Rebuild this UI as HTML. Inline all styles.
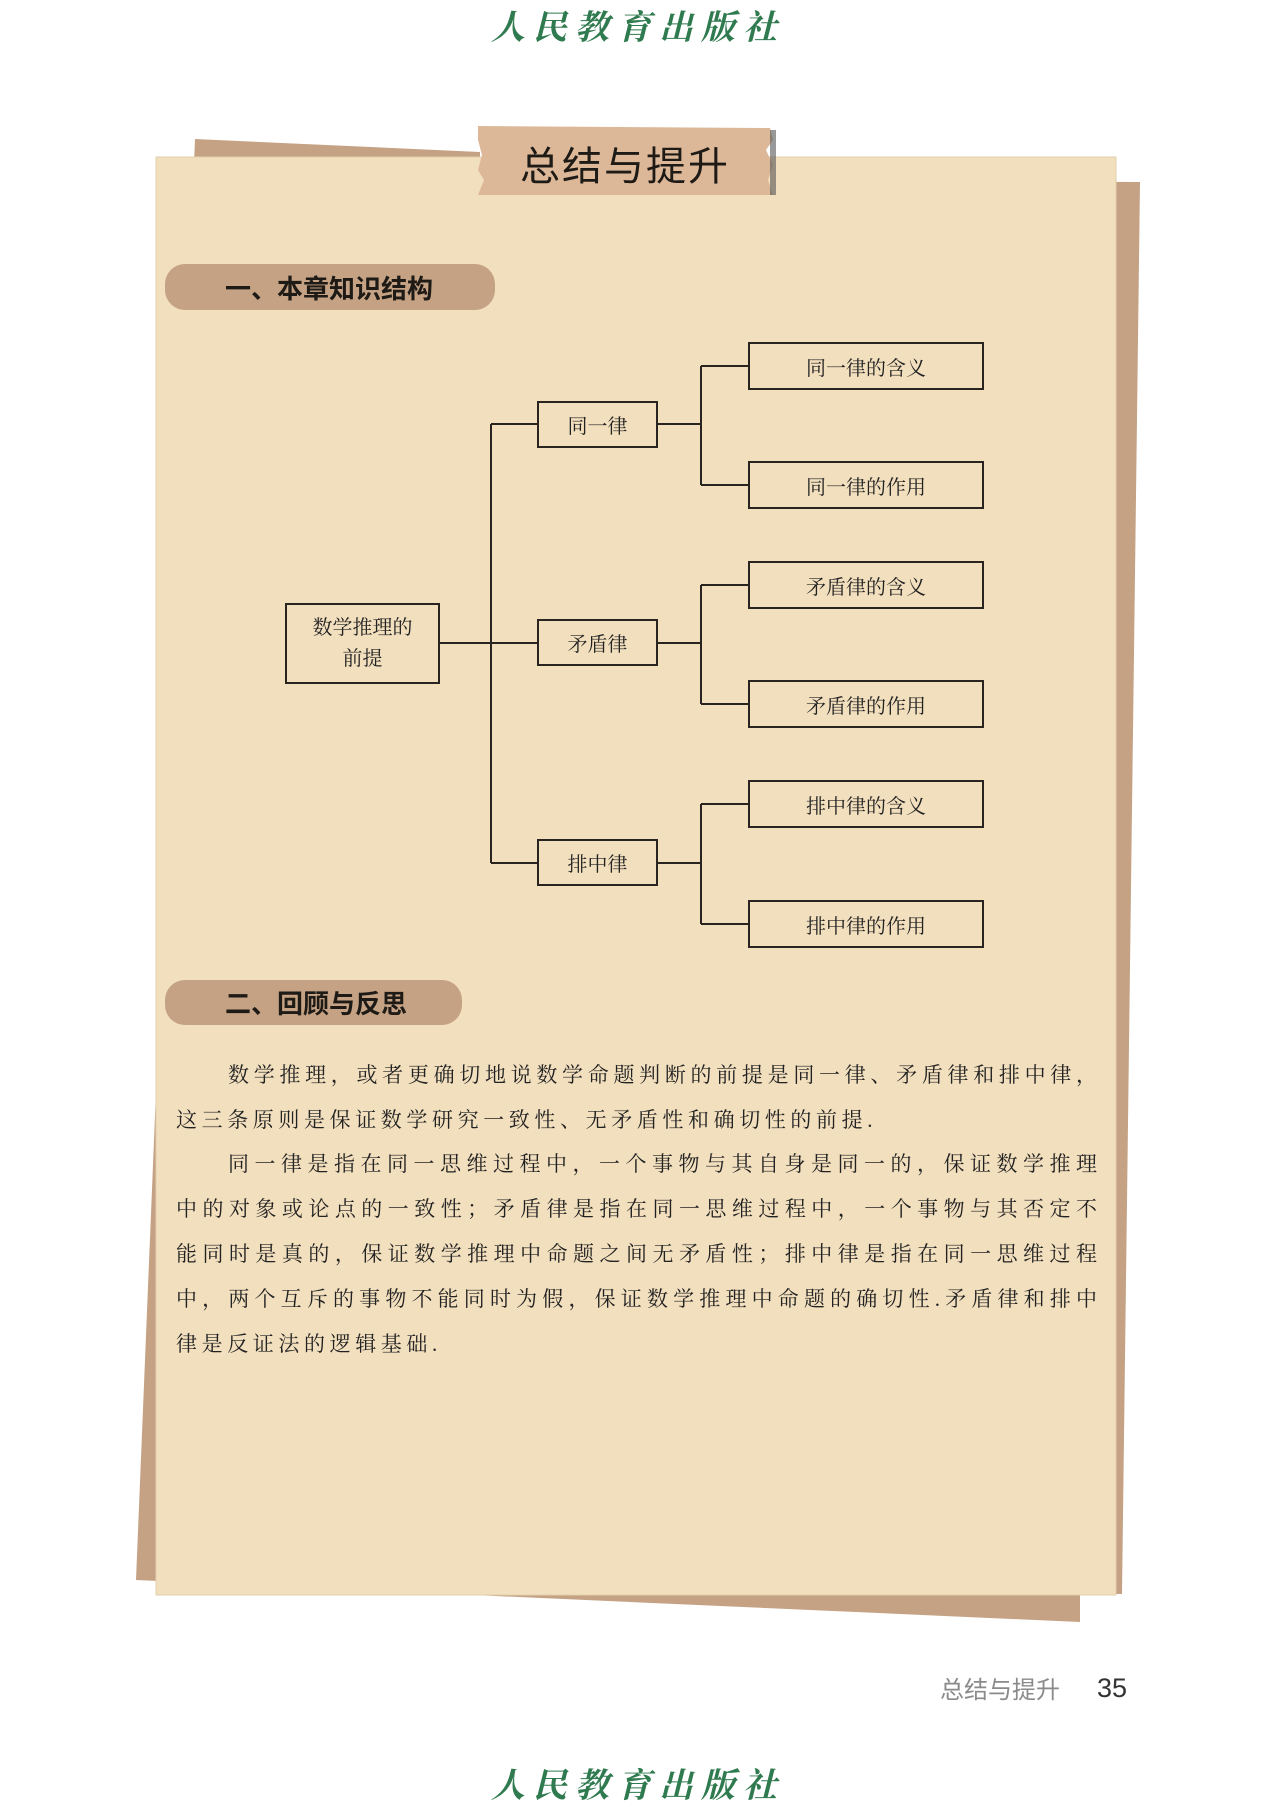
<!DOCTYPE html>
<html><head><meta charset="utf-8">
<style>
body{margin:0;width:1271px;height:1800px;background:#fff;position:relative;overflow:hidden;font-family:"Liberation Serif","Noto Serif CJK SC",serif;}
.abs{position:absolute;}
.logo{position:absolute;left:483px;width:310px;text-align:center;font-family:"Noto Serif CJK SC",serif;font-style:italic;font-size:34px;color:#2f7a4e;letter-spacing:8px;font-weight:bold;}
.box{position:absolute;border:2px solid #2a2420;box-sizing:border-box;display:flex;align-items:center;justify-content:center;font-size:20px;color:#222;}
.pill{position:absolute;background:#c4a283;border-radius:20px;font-family:"Liberation Sans","Noto Sans CJK SC",sans-serif;font-weight:bold;font-size:26px;color:#1e1a16;box-sizing:border-box;padding-left:60px;display:flex;align-items:center;}
.line{position:absolute;left:176px;width:921px;font-size:21px;color:#222;text-align:justify;text-align-last:justify;height:30px;line-height:30px;white-space:nowrap;}
</style></head><body>
<div class="logo" style="top:0px;">人民教育出版社</div>
<svg class="abs" style="left:0;top:0" width="1271" height="1800">
<polygon points="195,139 480,152 480,180 1140,182 1122,1594 1080,1594 1080,1622 136,1580" fill="#c4a283"/>
<rect x="156" y="157" width="960" height="1438" fill="#f2dfbe" stroke="#e2cfae" stroke-width="1"/>
<polygon points="478,126 770,128 773,140 766,150 773,165 768,180 773,195 478,195 484,180 478,170 482,155 478,140" fill="#dcb898"/>
<rect x="770" y="130" width="6" height="65" fill="#555" opacity="0.6"/>
<g stroke="#2a2420" stroke-width="2" fill="none">
<line x1="440" y1="643" x2="537" y2="643"/>
<line x1="491" y1="424" x2="491" y2="863"/>
<line x1="491" y1="424" x2="537" y2="424"/>
<line x1="491" y1="863" x2="537" y2="863"/>
<line x1="658" y1="424" x2="701" y2="424"/>
<line x1="701" y1="366" x2="701" y2="485"/>
<line x1="701" y1="366" x2="748" y2="366"/>
<line x1="701" y1="485" x2="748" y2="485"/>
<line x1="658" y1="643" x2="701" y2="643"/>
<line x1="701" y1="585" x2="701" y2="704"/>
<line x1="701" y1="585" x2="748" y2="585"/>
<line x1="701" y1="704" x2="748" y2="704"/>
<line x1="658" y1="863" x2="701" y2="863"/>
<line x1="701" y1="804" x2="701" y2="924"/>
<line x1="701" y1="804" x2="748" y2="804"/>
<line x1="701" y1="924" x2="748" y2="924"/>
</g>
</svg>
<div class="abs" style="left:520px;top:138px;font-family:'Noto Sans CJK SC',sans-serif;font-size:40px;letter-spacing:2px;color:#1e1a16;line-height:50px;">总结与提升</div>

<div class="pill" style="left:165px;top:264px;width:330px;height:46px;">一、本章知识结构</div>

<div class="box" style="left:285px;top:603px;width:155px;height:81px;flex-direction:column;line-height:31px;"><div>数学推理的</div><div>前提</div></div>
<div class="box" style="left:537px;top:401px;width:121px;height:47px;">同一律</div>
<div class="box" style="left:537px;top:619px;width:121px;height:47px;">矛盾律</div>
<div class="box" style="left:537px;top:839px;width:121px;height:47px;">排中律</div>
<div class="box" style="left:748px;top:342px;width:236px;height:48px;">同一律的含义</div>
<div class="box" style="left:748px;top:461px;width:236px;height:48px;">同一律的作用</div>
<div class="box" style="left:748px;top:561px;width:236px;height:48px;">矛盾律的含义</div>
<div class="box" style="left:748px;top:680px;width:236px;height:48px;">矛盾律的作用</div>
<div class="box" style="left:748px;top:780px;width:236px;height:48px;">排中律的含义</div>
<div class="box" style="left:748px;top:900px;width:236px;height:48px;">排中律的作用</div>

<div class="pill" style="left:165px;top:980px;width:297px;height:45px;">二、回顾与反思</div>

<div class="line" style="top:1060px;left:228px;width:869px;">数学推理，或者更确切地说数学命题判断的前提是同一律、矛盾律和排中律，</div>
<div class="line" style="top:1105px;text-align-last:left;letter-spacing:4.6px;">这三条原则是保证数学研究一致性、无矛盾性和确切性的前提.</div>
<div class="line" style="top:1149px;left:228px;width:869px;">同一律是指在同一思维过程中，一个事物与其自身是同一的，保证数学推理</div>
<div class="line" style="top:1194px;">中的对象或论点的一致性；矛盾律是指在同一思维过程中，一个事物与其否定不</div>
<div class="line" style="top:1239px;">能同时是真的，保证数学推理中命题之间无矛盾性；排中律是指在同一思维过程</div>
<div class="line" style="top:1284px;">中，两个互斥的事物不能同时为假，保证数学推理中命题的确切性.矛盾律和排中</div>
<div class="line" style="top:1329px;text-align-last:left;letter-spacing:4.6px;">律是反证法的逻辑基础.</div>

<div class="abs" style="left:940px;top:1672px;font-family:'Noto Sans CJK SC',sans-serif;font-size:24px;color:#8a8a8a;line-height:32px;">总结与提升</div>
<div class="abs" style="left:1097px;top:1672px;font-family:'Liberation Sans',sans-serif;font-size:27px;color:#333;line-height:32px;">35</div>
<div class="logo" style="top:1758px;">人民教育出版社</div>
</body></html>
